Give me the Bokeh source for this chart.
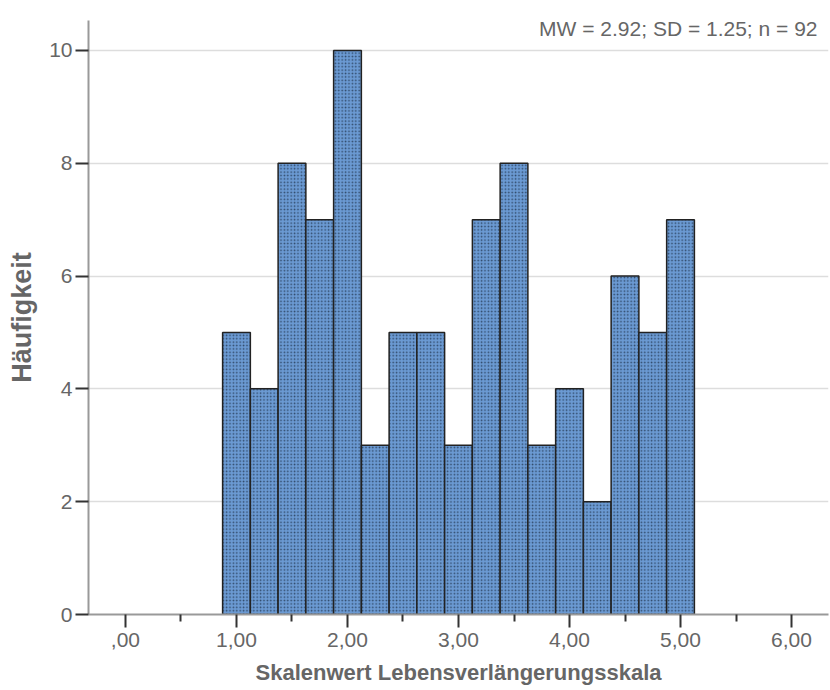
from bokeh.plotting import figure
from bokeh.models import Range1d, FixedTicker, Label, ColumnDataSource
from bokeh.embed import file_html
from bokeh.resources import INLINE

# Histogram of the scale score: bin centres and frequencies
bin_centers = [1.00, 1.25, 1.50, 1.75, 2.00, 2.25, 2.50, 2.75, 3.00,
               3.25, 3.50, 3.75, 4.00, 4.25, 4.50, 4.75, 5.00]
counts = [5, 4, 8, 7, 10, 3, 5, 5, 3, 7, 8, 3, 4, 2, 6, 5, 7]
bin_width = 0.25

x_ticks = [0, 1, 2, 3, 4, 5, 6]
x_tick_labels = [",00", "1,00", "2,00", "3,00", "4,00", "5,00", "6,00"]
x_minor_ticks = [0.5, 1.5, 2.5, 3.5, 4.5, 5.5]
y_ticks = [0, 2, 4, 6, 8, 10]

x_title = "Skalenwert Lebensverlängerungsskala"
y_title = "Häufigkeit"
stats_text = "MW = 2.92; SD = 1.25; n = 92"

FONT = "Liberation Sans"
TEXT_GREY = "#666666"

src = ColumnDataSource(dict(x=bin_centers, top=counts))

p = figure(width=830, height=690,
           x_range=Range1d(-0.333, 6.333), y_range=Range1d(0, 10.53),
           output_backend="svg", toolbar_location=None,
           min_border_left=88, min_border_right=2,
           min_border_top=20, min_border_bottom=76)
p.outline_line_color = None
p.background_fill_color = "white"
p.border_fill_color = "white"

p.vbar(x="x", top="top", width=bin_width, bottom=0, source=src,
       fill_color="#6b9ad3", line_color="#222222", line_width=1.5,
       hatch_pattern="dot", hatch_color="#1e3048", hatch_alpha=0.75,
       hatch_scale=3.4, hatch_weight=1.2)

# grid
p.xgrid.visible = False
p.ygrid.grid_line_color = "#dddddd"
p.ygrid.grid_line_width = 1.5
p.ygrid.ticker = FixedTicker(ticks=y_ticks)

# x axis
xa = p.xaxis[0]
xa.ticker = FixedTicker(ticks=x_ticks, minor_ticks=x_minor_ticks)
xa.major_label_overrides = {t: lab for t, lab in zip(x_ticks, x_tick_labels)}
xa.axis_label = x_title
xa.axis_line_color = "#999999"
xa.axis_line_width = 2
xa.major_tick_line_color = "#333333"
xa.major_tick_line_width = 2
xa.major_tick_out = 13
xa.major_tick_in = 0
xa.minor_tick_line_color = "#333333"
xa.minor_tick_line_width = 2
xa.minor_tick_out = 7
xa.minor_tick_in = 0
xa.major_label_text_font = FONT
xa.major_label_text_font_size = "21px"
xa.major_label_text_color = TEXT_GREY
xa.major_label_standoff = 5
xa.axis_label_text_font = FONT
xa.axis_label_text_font_size = "22px"
xa.axis_label_text_font_style = "bold"
xa.axis_label_text_color = TEXT_GREY
xa.axis_label_standoff = 10

# y axis
ya = p.yaxis[0]
ya.ticker = FixedTicker(ticks=y_ticks)
ya.axis_label = y_title
ya.axis_line_color = "#999999"
ya.axis_line_width = 2
ya.major_tick_line_color = "#333333"
ya.major_tick_line_width = 2
ya.major_tick_out = 13
ya.major_tick_in = 0
ya.minor_tick_line_color = None
ya.major_label_text_font = FONT
ya.major_label_text_font_size = "21px"
ya.major_label_text_color = TEXT_GREY
ya.major_label_standoff = 3
ya.axis_label_text_font = FONT
ya.axis_label_text_font_size = "27px"
ya.axis_label_text_font_style = "bold"
ya.axis_label_text_color = TEXT_GREY
ya.axis_label_standoff = 9

# summary statistics in the top-right corner
p.add_layout(Label(x=6.234, y=10.39, text=stats_text,
                   text_align="right", text_baseline="alphabetic",
                   text_font=FONT, text_font_size="21px",
                   text_color=TEXT_GREY))

open("out.html", "w").write(file_html(p, INLINE))
